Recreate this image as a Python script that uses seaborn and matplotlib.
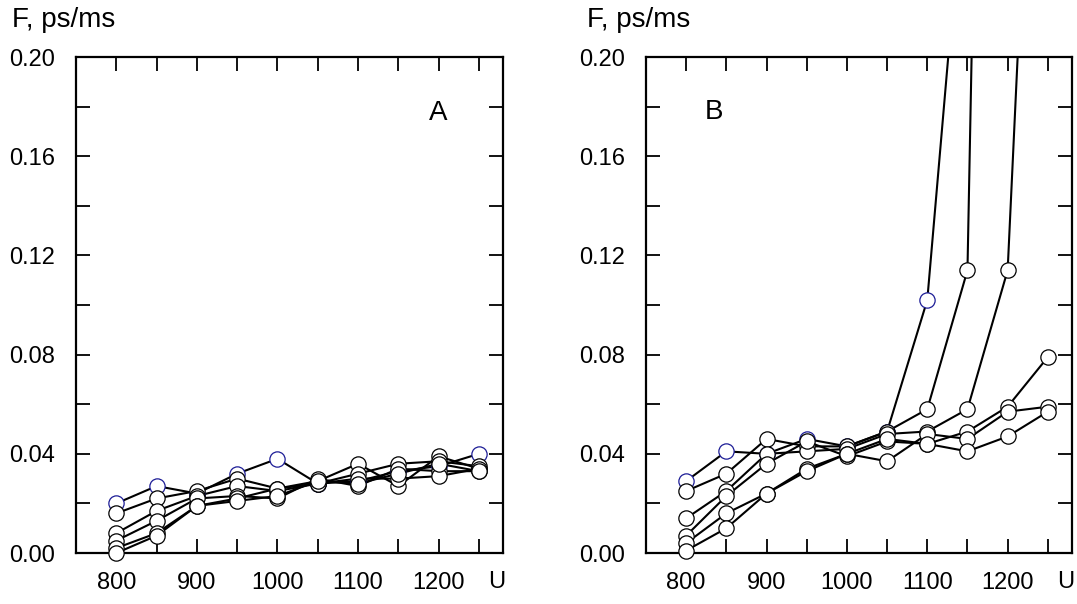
import numpy as np
import pandas as pd
import seaborn as sns
import matplotlib.pyplot as plt
from matplotlib.ticker import MultipleLocator, FormatStrFormatter

sns.set_theme(style="white")
plt.rcParams['font.family'] = ['Liberation Sans', 'DejaVu Sans']
plt.rcParams['text.color'] = 'black'
plt.rcParams['xtick.color'] = 'black'
plt.rcParams['ytick.color'] = 'black'

u = [800, 850, 900, 950, 1000, 1050, 1100, 1150, 1200, 1250]
nan = np.nan

# panel A, 6 series (first one has blue marker edges)
a_series = [
    [0.020, 0.027, 0.024, 0.032, 0.038, 0.028, 0.029, 0.033, 0.035, 0.040],
    [0.016, 0.022, 0.025, 0.030, 0.026, 0.029, 0.036, 0.027, 0.039, 0.034],
    [0.008, 0.017, 0.023, 0.027, 0.025, 0.028, 0.032, 0.036, 0.037, 0.035],
    [0.005, 0.013, 0.022, 0.023, 0.022, 0.030, 0.027, 0.034, 0.033, 0.033],
    [0.002, 0.008, 0.019, 0.022, 0.026, 0.028, 0.030, 0.030, 0.031, 0.034],
    [0.000, 0.007, 0.019, 0.021, 0.023, 0.029, 0.028, 0.032, 0.036, 0.033],
]

# panel B, three series run off the top
b_series = [
    [0.029, 0.041, 0.040, 0.046, 0.043, 0.049, 0.102, 0.290, nan, nan],
    [0.025, 0.032, 0.046, 0.043, 0.043, 0.049, 0.058, 0.114, 0.950, nan],
    [0.014, 0.025, 0.040, 0.041, 0.042, 0.048, 0.049, 0.058, 0.114, 0.460],
    [0.007, 0.023, 0.036, 0.045, 0.039, 0.045, 0.044, 0.049, 0.059, 0.079],
    [0.004, 0.016, 0.024, 0.034, 0.040, 0.037, 0.048, 0.046, 0.057, 0.059],
    [0.001, 0.010, 0.024, 0.033, 0.040, 0.046, 0.044, 0.041, 0.047, 0.057],
]

x_labels = [800, 900, 1000, 1100, 1200]
ymax = 0.20


def draw_panel(ax, series, letter, lx, ly):
    for i, vals in enumerate(series):
        d = pd.DataFrame({'U': u, 'F': vals}).dropna()
        edge = '#1c1c96' if i == 0 else 'black'
        sns.lineplot(data=d, x='U', y='F', ax=ax, color='black', lw=1.5,
                     sort=False, zorder=2 + i * 0.1)
        inside = d[d['F'] <= ymax]
        ax.plot(inside['U'], inside['F'], ls='none', marker='o', ms=11,
                mfc='white', mec=edge, mew=0.9, clip_on=False,
                zorder=3 + i * 0.1)
    ax.set_xlim(750, 1280)
    ax.set_ylim(0, ymax)
    ax.set_xlabel('')
    ax.set_ylabel('')
    ax.set_xticks(x_labels)
    ax.xaxis.set_minor_locator(MultipleLocator(50))
    ax.yaxis.set_major_locator(MultipleLocator(0.04))
    ax.yaxis.set_minor_locator(MultipleLocator(0.02))
    ax.yaxis.set_major_formatter(FormatStrFormatter('%.2f'))
    ax.tick_params(which='both', direction='in', top=True, right=True,
                   bottom=True, left=True, length=10, width=1.3,
                   color='black')
    ax.tick_params(axis='x', which='major', labelsize=17, pad=14)
    ax.tick_params(axis='y', which='major', labelsize=17, pad=15)
    for s in ax.spines.values():
        s.set_color('black')
        s.set_linewidth(1.6)
    ax.text(lx, ly, letter, transform=ax.transAxes, fontsize=20,
            ha='center', va='center')
    ax.text(0.986, -0.058, 'U', transform=ax.transAxes, fontsize=17,
            ha='center', va='center')


fig = plt.figure(figsize=(10.77, 6.04), dpi=100)
ax_a = fig.add_axes([0.0706, 0.0844, 0.3965, 0.8212])
ax_b = fig.add_axes([0.5998, 0.0844, 0.3955, 0.8212])

draw_panel(ax_a, a_series, 'A', 0.848, 0.887)
draw_panel(ax_b, b_series, 'B', 0.16, 0.889)

fig.text(12 / 1077, 1 - 27 / 604, 'F, ps/ms', fontsize=20, ha='left',
         va='baseline')
fig.text(587 / 1077, 1 - 27 / 604, 'F, ps/ms', fontsize=20, ha='left',
         va='baseline')

fig.savefig('out.png', dpi=100)
